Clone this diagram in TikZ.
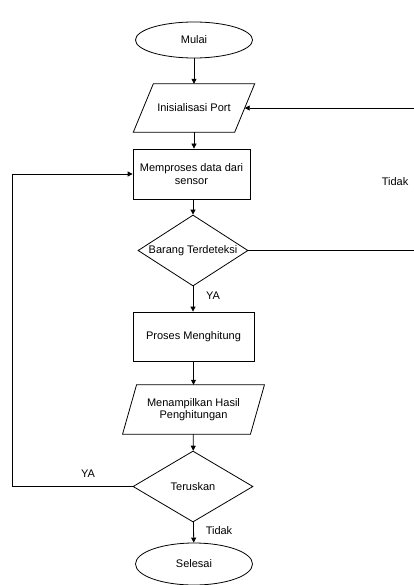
\documentclass[tikz,border=0pt]{standalone}
\usepackage{fontspec}
\setmainfont{Liberation Sans}
\usetikzlibrary{shapes.geometric,arrows.meta}
\begin{document}
\begin{tikzpicture}[x=1pt,y=-1pt,
  every node/.style={font=\fontsize{11}{12.5}\selectfont},
  term/.style={draw,ellipse,line width=0.8pt,inner sep=0pt,minimum width=117pt,minimum height=36pt},
  io/.style={rectangle,inner sep=0pt,align=center},
  para/.style={line width=0.8pt},
  proc/.style={draw,rectangle,line width=0.8pt,inner sep=0pt,align=center},
  dec/.style={draw,diamond,line width=0.8pt,inner sep=0pt},
  lbl/.style={inner sep=0pt},
  flow/.style={line width=0.8pt,-{Triangle[length=5pt,width=5pt]}},
  plain/.style={line width=0.8pt}]
\useasboundingbox[fill=white] (0,0) rectangle (414,585);
\node[term] (mulai) at (194,40) {Mulai};
\node[io,minimum width=101pt,minimum height=48pt] (init) at (194,108) {Inisialisasi Port};
\draw[para] ([xshift=10pt]init.north west) -- ([xshift=10pt]init.north east) -- ([xshift=-10pt]init.south east) -- ([xshift=-10pt]init.south west) -- cycle;
\node[proc,minimum width=117pt,minimum height=50pt] (proses) at (191.5,174) {Memproses data dari\\sensor};
\node[dec,minimum width=110pt,minimum height=71pt] (d1) at (193,250.5) {};
\node[lbl] (d1t) at (d1) {Barang Terdeteksi};
\node[proc,minimum width=121pt,minimum height=49pt] (hitung) at (193.5,336.5) {Proses Menghitung};
\node[io,minimum width=127.5pt,minimum height=49pt] (tampil) at (193.5,409.5) {Menampilkan Hasil\\Penghitungan};
\draw[para] ([xshift=7pt]tampil.north west) -- ([xshift=7pt]tampil.north east) -- ([xshift=-7pt]tampil.south east) -- ([xshift=-7pt]tampil.south west) -- cycle;
\node[dec,minimum width=120pt,minimum height=71pt] (d2) at (193,486.5) {};
\node[lbl] (d2t) at (d2) {Teruskan};
\node[term,minimum height=42pt] (selesai) at (194,564) {Selesai};
\coordinate (lp) at (12,486.5);
\coordinate (rp) at (418,250.5);
\draw[flow] (mulai) -- (init);
\draw[flow] (init.south) -- (proses.north -| init.south);
\draw[flow] (proses.south -| d1.north) -- (d1.north);
\draw[flow] (d1) -- (hitung.north -| d1.south);
\draw[flow] (hitung.south -| tampil.north) -- (tampil);
\draw[flow] (tampil) -- (d2);
\draw[flow] (d2) -- (selesai);
\draw[flow] (d2.west) -- (lp) |- (proses.west);
\draw[flow] (d1.east) -- (rp) |- (init.east);
\node[lbl] (ya1) at (213,296) {YA};
\node[lbl] (ya2) at (88,474) {YA};
\node[lbl] (tidak1) at (395,182) {Tidak};
\node[lbl] (tidak2) at (219,531) {Tidak};
\end{tikzpicture}
\end{document}
